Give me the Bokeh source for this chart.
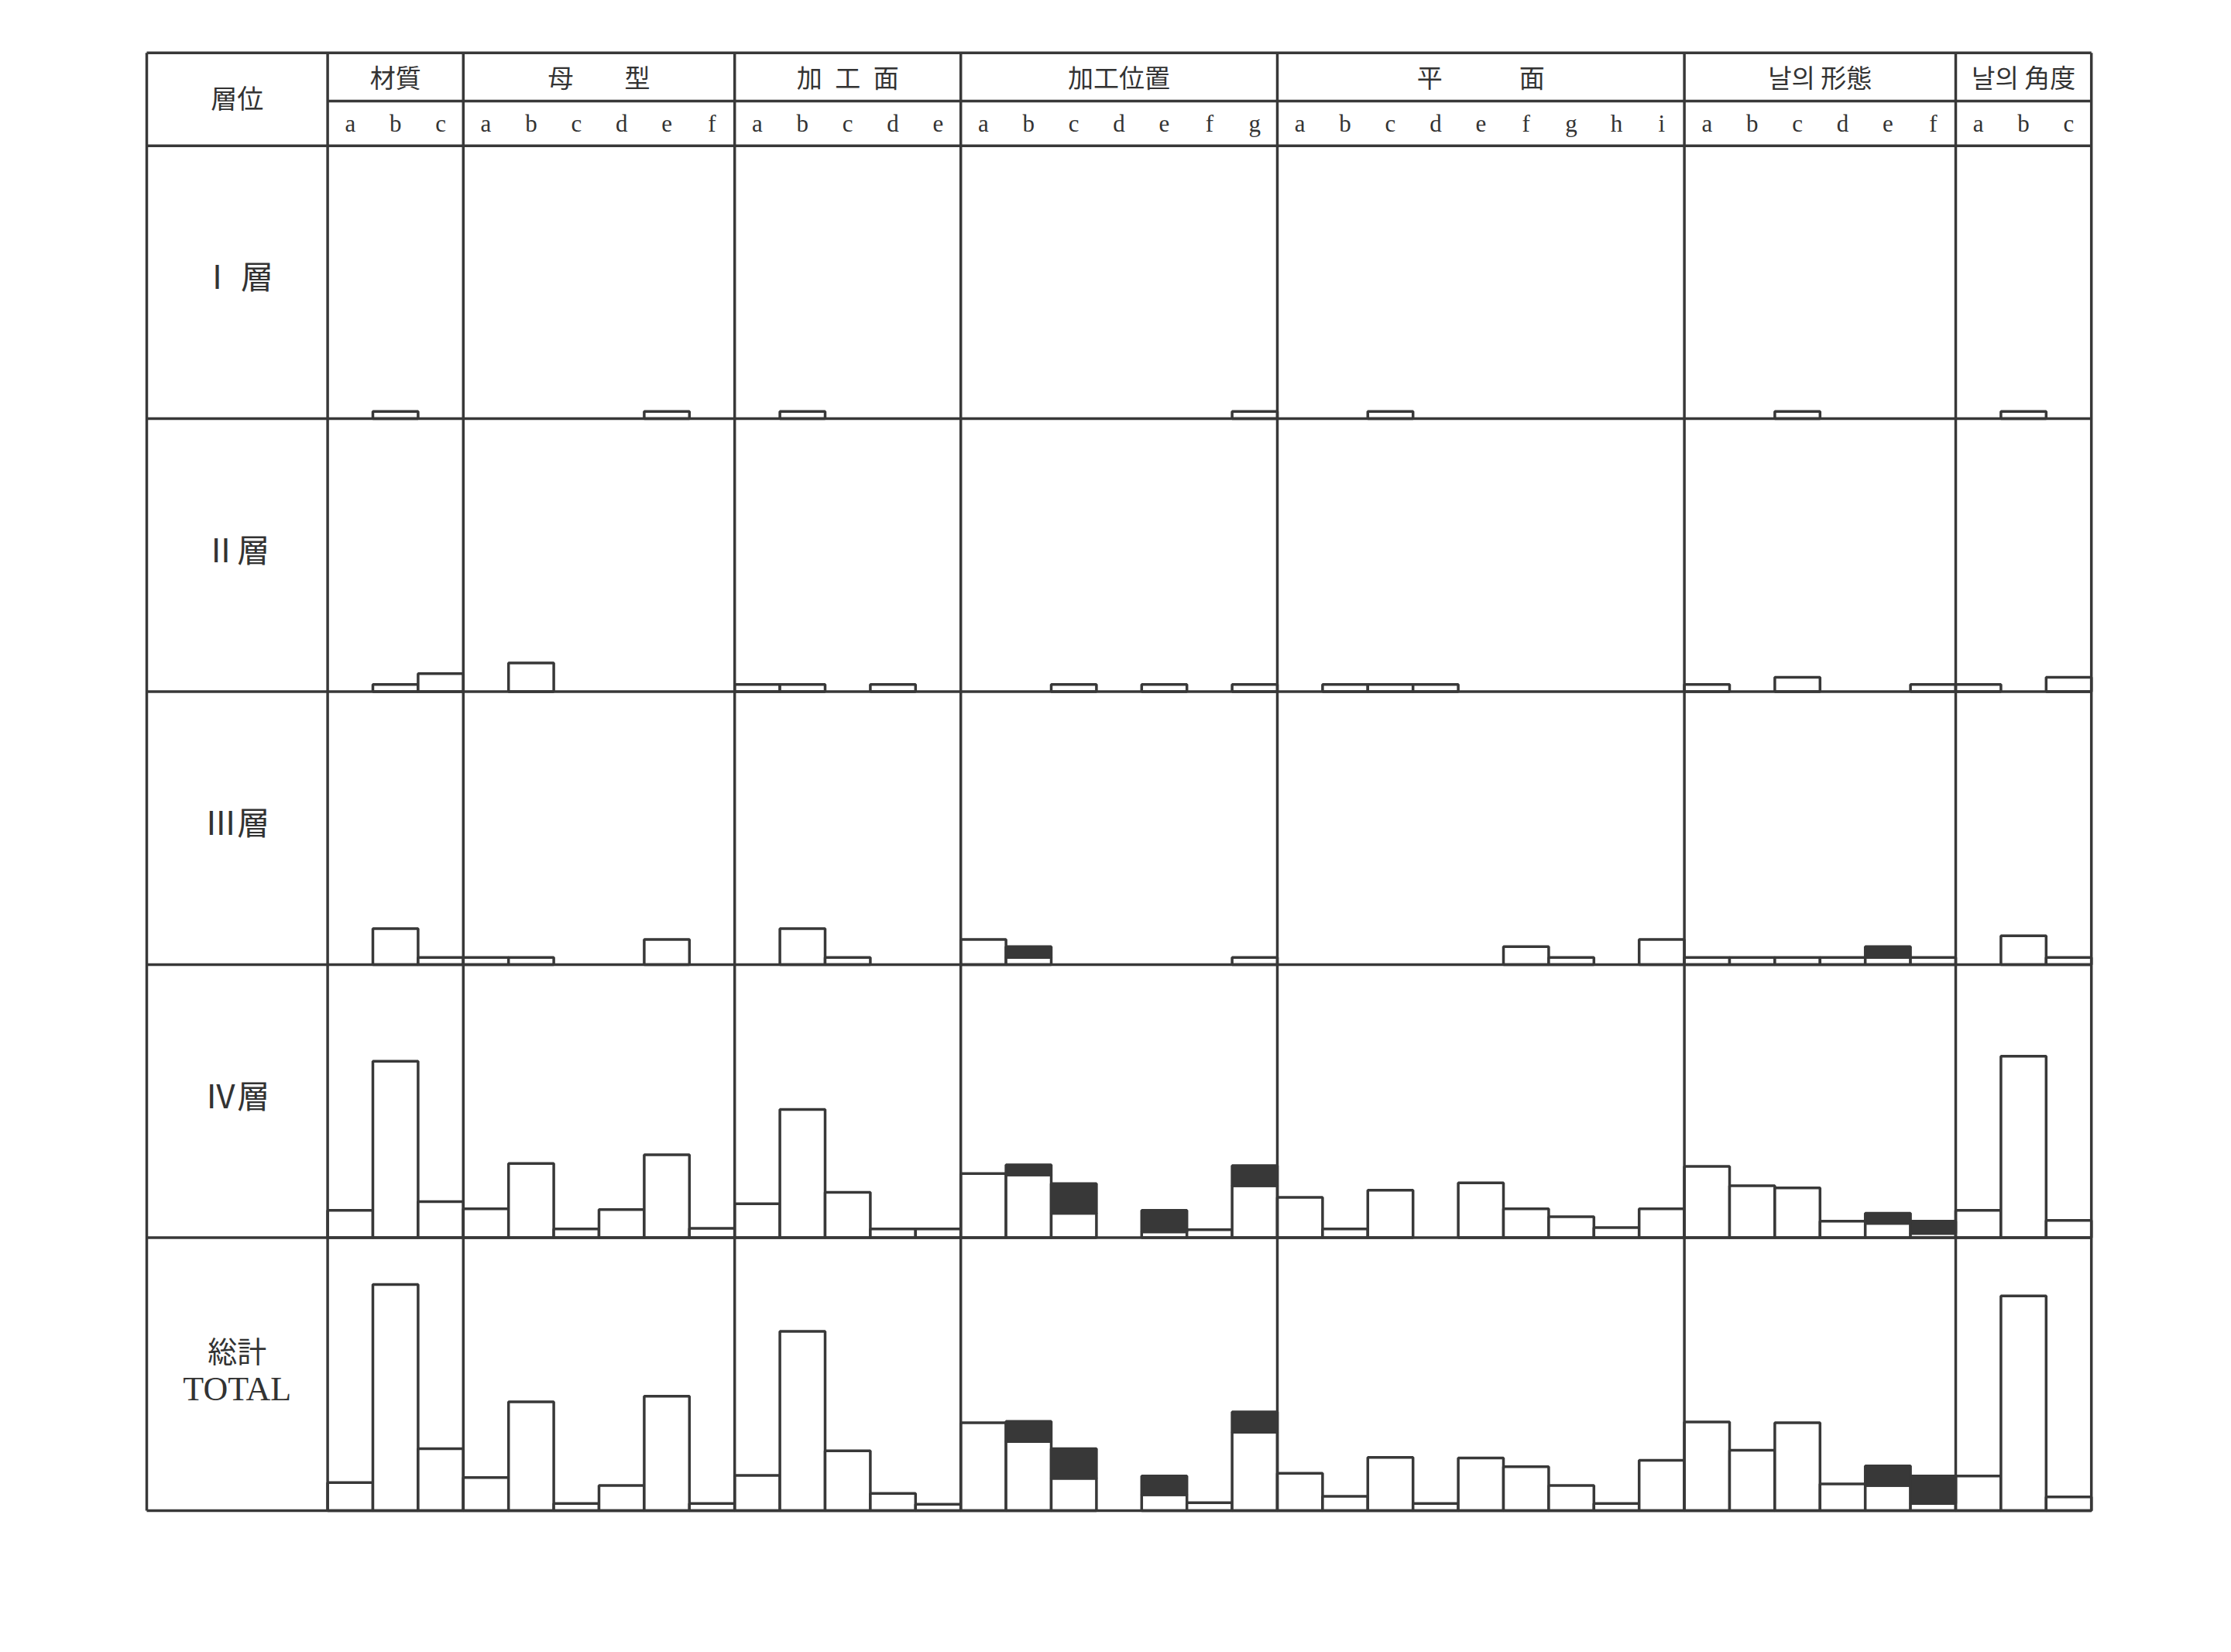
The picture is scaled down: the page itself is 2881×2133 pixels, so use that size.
from bokeh.plotting import figure
from bokeh.models import Range1d
from bokeh.embed import file_html
from bokeh.resources import INLINE
from bokeh.core.properties import value

# ---------------- data ----------------
group_names = ["材質", "母　　型", "加\u2002工\u2002面", "加工位置", "平　　　面", "날의 形態", "날의 角度"]
group_letters = [
    ["a", "b", "c"],
    ["a", "b", "c", "d", "e", "f"],
    ["a", "b", "c", "d", "e"],
    ["a", "b", "c", "d", "e", "f", "g"],
    ["a", "b", "c", "d", "e", "f", "g", "h", "i"],
    ["a", "b", "c", "d", "e", "f"],
    ["a", "b", "c"],
]
layer_names = ["Ⅰ 層", "Ⅱ層", "Ⅲ層", "Ⅳ層"]
total_label = ["総計", "TOTAL"]

# counts per category (plain = white part, dark = black part stacked on top)
layer1_plain = [0, 1, 0,  0, 0, 0, 0, 1, 0,  0, 1, 0, 0, 0,  0, 0, 0, 0, 0, 0, 1,
                0, 0, 1, 0, 0, 0, 0, 0, 0,  0, 0, 1, 0, 0, 0,  0, 1, 0]
layer1_dark = [0] * 39

layer2_plain = [0, 1, 2.5,  0, 4, 0, 0, 0, 0,  1, 1, 0, 1, 0,  0, 0, 1, 0, 1, 0, 1,
                0, 1, 1, 1, 0, 0, 0, 0, 0,  1, 0, 2, 0, 0, 1,  1, 0, 2]
layer2_dark = [0] * 39

layer3_plain = [0, 5, 1,  1, 1, 0, 0, 3.5, 0,  0, 5, 1, 0, 0,  3.5, 1, 0, 0, 0, 0, 1,
                0, 0, 0, 0, 0, 2.5, 1, 0, 3.5,  1, 1, 1, 1, 1, 1,  0, 4, 1]
layer3_dark = [0, 0, 0,  0, 0, 0, 0, 0, 0,  0, 0, 0, 0, 0,  0, 1.5, 0, 0, 0, 0, 0,
               0, 0, 0, 0, 0, 0, 0, 0, 0,  0, 0, 0, 0, 1.5, 0,  0, 0, 0]

layer4_plain = [3.8, 24.5, 5,  4, 10.3, 1.2, 3.9, 11.5, 1.3,  4.7, 17.8, 6.3, 1.2, 1.2,
                8.9, 8.7, 3.4, 0, 0.8, 1.1, 7.2,  5.6, 1.2, 6.6, 0, 7.6, 4, 2.9, 1.4, 4,
                9.9, 7.2, 6.9, 2.3, 2, 0.6,  3.8, 25.2, 2.4]
layer4_dark = [0, 0, 0,  0, 0, 0, 0, 0, 0,  0, 0, 0, 0, 0,  0, 1.4, 4.1, 0, 3.0, 0, 2.8,
               0, 0, 0, 0, 0, 0, 0, 0, 0,  0, 0, 0, 0, 1.4, 1.7,  0, 0, 0]

total_plain = [3.9, 31.4, 8.6,  4.6, 15.1, 1, 3.5, 15.9, 1,  4.9, 24.9, 8.3, 2.4, 0.9,
               12.2, 9.6, 4.5, 0, 2.2, 1.1, 10.9,  5.2, 2, 7.4, 1, 7.3, 6.1, 3.5, 1, 7,
               12.3, 8.4, 12.2, 3.7, 3.5, 1,  4.8, 29.8, 1.9]
total_dark = [0, 0, 0,  0, 0, 0, 0, 0, 0,  0, 0, 0, 0, 0,  0, 2.8, 4.1, 0, 2.6, 0, 2.8,
              0, 0, 0, 0, 0, 0, 0, 0, 0,  0, 0, 0, 0, 2.7, 3.8,  0, 0, 0]

rows_plain = [layer1_plain, layer2_plain, layer3_plain, layer4_plain, total_plain]
rows_dark = [layer1_dark, layer2_dark, layer3_dark, layer4_dark, total_dark]

# ---------------- layout ----------------
W, H = 2881, 2133
PX_X = 58.4      # px per category
PX_Y = 9.3       # px per count
ROW_H = 37.9     # counts per row band
HDR2 = 6.2       # letter row height
HDR1 = 6.7       # group name row height
LABEL_W = 4      # label column width in categories
N = sum(len(g) for g in group_letters)

x0 = -LABEL_W - 189 / PX_X
y0 = -(H - 1950) / PX_Y

p = figure(width=W, height=H, output_backend="svg", toolbar_location=None,
           x_range=Range1d(x0, x0 + W / PX_X), y_range=Range1d(y0, y0 + H / PX_Y),
           x_axis_type=None, y_axis_type=None, min_border=0)
p.grid.visible = False
p.outline_line_color = None
p.background_fill_color = "#ffffff"
p.border_fill_color = "#ffffff"

LINE = "#383838"
DARK = "#383838"

n_rows = len(rows_plain)
bases = [(n_rows - 1 - r) * ROW_H for r in range(n_rows)]

# bars
L, R, B, T = [], [], [], []
Ld, Rd, Bd, Td = [], [], [], []
for r in range(n_rows):
    base = bases[r]
    for i in range(N):
        pv = rows_plain[r][i]
        dv = rows_dark[r][i]
        if pv > 0:
            L.append(i); R.append(i + 1); B.append(base); T.append(base + pv)
        if dv > 0:
            Ld.append(i); Rd.append(i + 1); Bd.append(base + pv); Td.append(base + pv + dv)

p.quad(left=L, right=R, bottom=B, top=T, fill_color="#ffffff",
       line_color=LINE, line_width=3.5)
p.quad(left=Ld, right=Rd, bottom=Bd, top=Td, fill_color=DARK,
       line_color=LINE, line_width=3.5)

# table lines
hdr_bottom = n_rows * ROW_H
hdr_mid = hdr_bottom + HDR2
top = hdr_mid + HDR1
bounds = [0]
for g in group_letters:
    bounds.append(bounds[-1] + len(g))

xs0, ys0, xs1, ys1 = [], [], [], []
for xb in [-LABEL_W] + bounds:
    xs0.append(xb); ys0.append(0); xs1.append(xb); ys1.append(top)
for k in range(n_rows + 1):
    xs0.append(-LABEL_W); ys0.append(k * ROW_H); xs1.append(N); ys1.append(k * ROW_H)
xs0.append(-LABEL_W); ys0.append(top); xs1.append(N); ys1.append(top)
xs0.append(0); ys0.append(hdr_mid); xs1.append(N); ys1.append(hdr_mid)
p.segment(x0=xs0, y0=ys0, x1=xs1, y1=ys1, line_color=LINE, line_width=3.5)

# header texts
gx = [(bounds[i] + bounds[i + 1]) / 2 for i in range(len(group_names))]
p.text(x=gx, y=[hdr_mid + HDR1 / 2] * len(gx), text=group_names,
       text_font=value("Noto Sans CJK JP"), text_font_size="33px",
       text_align="center", text_baseline="middle", text_color="#333333")
lx, lt = [], []
for gi, g in enumerate(group_letters):
    for j, s in enumerate(g):
        lx.append(bounds[gi] + j + 0.5); lt.append(s)
p.text(x=lx, y=[hdr_bottom + HDR2 / 2] * len(lx), text=lt,
       text_font=value("Liberation Serif"), text_font_size="31px",
       text_align="center", text_baseline="middle", text_color="#333333")
p.text(x=[-LABEL_W / 2], y=[hdr_bottom + (HDR1 + HDR2) / 2 + 0.3], text=["層位"],
       text_font=value("Noto Sans CJK JP"), text_font_size="34px",
       text_align="center", text_baseline="middle", text_color="#333333")

# row labels
p.text(x=[-LABEL_W / 2] * len(layer_names),
       y=[bases[r] + 20 for r in range(len(layer_names))], text=layer_names,
       text_font=value("Noto Sans CJK JP"), text_font_size="42px",
       text_align="center", text_baseline="middle", text_color="#333333")
p.text(x=[-LABEL_W / 2], y=[22.4], text=[total_label[0]],
       text_font=value("Noto Sans CJK JP"), text_font_size="38px",
       text_align="center", text_baseline="middle", text_color="#333333")
p.text(x=[-LABEL_W / 2], y=[16.9], text=[total_label[1]],
       text_font=value("Liberation Serif"), text_font_size="44px",
       text_align="center", text_baseline="middle", text_color="#333333")

open("out.html", "w").write(file_html(p, INLINE))
